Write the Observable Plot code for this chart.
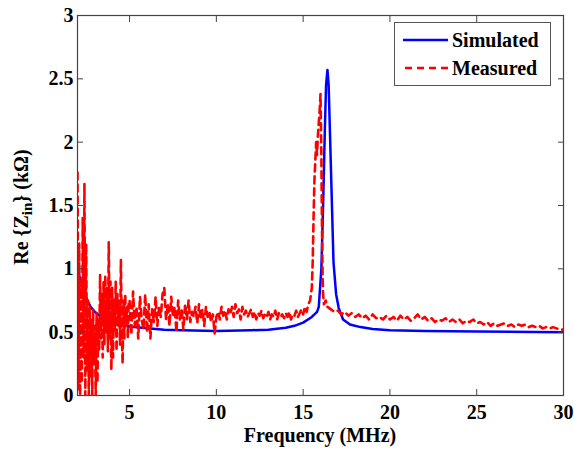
<!DOCTYPE html>
<html>
<head>
<meta charset="utf-8">
<script src="https://cdn.jsdelivr.net/npm/d3@7"></script>
<script src="https://cdn.jsdelivr.net/npm/@observablehq/plot@0.6"></script>
<style>
  html, body { margin: 0; padding: 0; background: #fff; }
  #wrap { position: relative; width: 574px; height: 449px; font-family: "Times New Roman", Times, "Liberation Serif", "Nimbus Roman", "Nimbus Roman No9 L", FreeSerif, "Noto Serif", "DejaVu Serif", serif; font-weight: bold; color: #000; }
  #wrap svg { display: block; }
  .ylab { position: absolute; left: 21px; top: 207px; transform: translate(-50%, -50%) rotate(-90deg); white-space: nowrap; font-size: 20px; }
  .ylab sub { font-size: 15px; vertical-align: -4px; line-height: 0; }
  .xlab { position: absolute; left: 320px; top: 435px; transform: translate(-50%, -50%); white-space: nowrap; font-size: 20px; }
  .legend { position: absolute; left: 394px; top: 22px; width: 155px; height: 59px; border: 1px solid #555; background: #fff; padding-top: 3px; box-sizing: content-box; }
  .legend .row { display: flex; align-items: center; height: 28px; padding-left: 8px; font-size: 20px; }
  .legend svg { margin-right: 4px; }
</style>
</head>
<body>
<div id="wrap"></div>
<script>
// ---- Data ----
const xTicks = [5, 10, 15, 20, 25, 30];
const yTicks = [0, 0.5, 1, 1.5, 2, 2.5, 3];
const seriesNames = ["Simulated", "Measured"];

// Simulated Re{Zin} (kOhm)
const simFreq = [2.0, 2.1, 2.25, 2.5, 2.75, 3.0, 3.5, 4.0, 4.5, 5.0, 6.0, 7.0, 8.0, 10.0, 12.0, 13.0, 14.0, 14.5, 15.0, 15.5, 15.8, 15.9, 16.05, 16.15, 16.25, 16.32, 16.4, 16.47, 16.55, 16.65, 16.75, 16.9, 17.05, 17.3, 17.7, 18.3, 19.0, 20.0, 22.0, 25.0, 30.0];
const simRe   = [1.09, 0.95, 0.85, 0.77, 0.70, 0.66, 0.61, 0.58, 0.56, 0.545, 0.53, 0.52, 0.515, 0.51, 0.515, 0.52, 0.535, 0.55, 0.575, 0.62, 0.66, 0.70, 1.0, 1.5, 2.1, 2.45, 2.57, 2.45, 2.05, 1.55, 1.05, 0.8, 0.69, 0.6, 0.56, 0.54, 0.525, 0.515, 0.51, 0.505, 0.50];

// Measured Re{Zin}, low band 2.00 .. 4.95 MHz every 0.05 MHz
const measLowStart = 2.0, measLowStep = 0.05;
const measLow = [1.76, 0.05, 1.2, 0.0, 0.9, 0.1, 1.4, 0.3, 1.67, 0.0,
                 1.2, 0.2, 0.75, 0.0, 0.7, 0.15, 0.6, 0.0, 0.68, 0.25,
                 0.55, 0.0, 0.65, 0.1, 0.6, 0.35, 0.95, 0.45, 0.8, 0.3,
                 0.9, 0.4, 0.95, 0.5, 0.85, 0.35, 1.21, 0.45, 0.9, 0.2,
                 0.85, 0.3, 0.75, 0.5, 0.9, 0.35, 0.8, 0.55, 0.75, 0.4,
                 1.07, 0.5, 0.25, 0.75, 0.45, 0.8, 0.55, 0.7, 0.45, 0.75];
// Measured, mid band 5.0 .. 15.3 MHz every 0.1 MHz
const measMidStart = 5.0, measMidStep = 0.1;
const measMid = [0.75, 0.48, 0.82, 0.55, 0.7, 0.45, 0.78, 0.6, 0.52, 0.8,
                 0.5, 0.72, 0.45, 0.68, 0.58, 0.78, 0.55, 0.7, 0.62, 0.8,
                 0.85, 0.6, 0.72, 0.55, 0.78, 0.62, 0.7, 0.5, 0.75, 0.6,
                 0.68, 0.52, 0.72, 0.6, 0.75, 0.58, 0.66, 0.62, 0.7, 0.57,
                 0.72, 0.6, 0.68, 0.55, 0.7, 0.62, 0.66, 0.58, 0.64, 0.49,
                 0.62, 0.66, 0.6, 0.7, 0.63, 0.67, 0.6, 0.68, 0.64, 0.7,
                 0.62, 0.72, 0.65, 0.68, 0.6, 0.7, 0.64, 0.67, 0.62, 0.65,
                 0.68, 0.62, 0.66, 0.6, 0.65, 0.63, 0.67, 0.61, 0.64, 0.62,
                 0.66, 0.6, 0.64, 0.62, 0.67, 0.6, 0.65, 0.62, 0.64, 0.61,
                 0.65, 0.62, 0.66, 0.6, 0.64, 0.63, 0.67, 0.62, 0.65, 0.68,
                 0.64, 0.7, 0.66, 0.72];
// Measured, resonance region
const measPeakFreq = [15.4, 15.5, 15.55, 15.6, 15.65, 15.7, 15.75, 15.8, 15.85, 15.9, 15.95, 16.0, 16.05, 16.08, 16.12, 16.15, 16.2, 16.3];
const measPeakRe   = [0.75, 0.85, 1.05, 1.4, 1.7, 1.85, 2.0, 1.9, 2.05, 2.15, 2.25, 2.38, 1.9, 1.4, 0.95, 0.8, 0.72, 0.75];
// Measured, high band 16.4 .. 30.0 MHz every 0.2 MHz
const measHighStart = 16.4, measHighStep = 0.2;
const measHigh = [0.7, 0.68, 0.66, 0.67, 0.64, 0.66, 0.63, 0.65, 0.62, 0.64,
                  0.61, 0.63, 0.6, 0.64, 0.61, 0.62, 0.6, 0.63, 0.6, 0.62,
                  0.59, 0.63, 0.6, 0.62, 0.59, 0.61, 0.64, 0.6, 0.62, 0.59,
                  0.61, 0.58, 0.6, 0.59, 0.61, 0.58, 0.6, 0.58, 0.6, 0.57,
                  0.59, 0.58, 0.6, 0.57, 0.58, 0.56, 0.58, 0.55, 0.57, 0.55,
                  0.56, 0.57, 0.55, 0.56, 0.54, 0.56, 0.55, 0.56, 0.54, 0.55,
                  0.54, 0.55, 0.53, 0.54, 0.53, 0.54, 0.53, 0.52, 0.52];

// ---- Build tables ----
const simulated = simFreq.map((f, i) => ({f, v: simRe[i]}));
const measured = [
  ...measLow.map((v, i) => ({f: +(measLowStart + i * measLowStep).toFixed(3), v})),
  ...measMid.map((v, i) => ({f: +(measMidStart + i * measMidStep).toFixed(3), v})),
  ...measPeakFreq.map((f, i) => ({f, v: measPeakRe[i]})),
  ...measHigh.map((v, i) => ({f: +(measHighStart + i * measHighStep).toFixed(3), v}))
];

const BLUE = "#0000ff", RED = "#ff0000", AXIS = "#444";
const FONT = "'Times New Roman', Times, 'Liberation Serif', 'Nimbus Roman', FreeSerif, 'Noto Serif', 'DejaVu Serif', serif";

const chart = Plot.plot({
  width: 574,
  height: 449,
  marginLeft: 77,
  marginRight: 11,
  marginTop: 15,
  marginBottom: 54,
  style: {fontFamily: FONT, fontSize: "20px", fontWeight: "bold", background: "#fff", color: "#000"},
  x: {domain: [2, 30]},
  y: {domain: [0, 3]},
  marks: [
    Plot.line(simulated, {x: "f", y: "v", stroke: BLUE, strokeWidth: 2.5, clip: true}),
    Plot.line(measured, {x: "f", y: "v", stroke: RED, strokeWidth: 2.6, strokeDasharray: "7,5", clip: true}),
    Plot.frame({stroke: AXIS, strokeWidth: 1.2}),
    Plot.axisX({anchor: "bottom", ticks: xTicks, tickSize: -6, tickPadding: 15, stroke: AXIS, fontFamily: FONT, label: null, tickFormat: d => String(d)}),
    Plot.axisX({anchor: "top", ticks: xTicks, tickSize: -6, stroke: AXIS, label: null, tickFormat: () => ""}),
    Plot.axisY({anchor: "left", ticks: yTicks, tickSize: -6, tickPadding: 10, stroke: AXIS, fontFamily: FONT, label: null, tickFormat: d => String(d)}),
    Plot.axisY({anchor: "right", ticks: yTicks, tickSize: -6, stroke: AXIS, label: null, tickFormat: () => ""})
  ]
});

const wrap = document.getElementById("wrap");
wrap.appendChild(chart);

// Axis titles
const yl = document.createElement("div");
yl.className = "ylab";
yl.innerHTML = "Re {Z<sub>in</sub>} (k&Omega;)";
wrap.appendChild(yl);
const xl = document.createElement("div");
xl.className = "xlab";
xl.textContent = "Frequency (MHz)";
wrap.appendChild(xl);

// Legend
const lg = document.createElement("div");
lg.className = "legend";
const styles = [{c: BLUE, dash: null}, {c: RED, dash: "7,5"}];
seriesNames.forEach((name, i) => {
  const row = document.createElement("div");
  row.className = "row";
  row.innerHTML = `<svg width="45" height="6"><line x1="0" y1="3" x2="45" y2="3" stroke="${styles[i].c}" stroke-width="2.4" ${styles[i].dash ? `stroke-dasharray="${styles[i].dash}" stroke-dashoffset="-2"` : ""}></line></svg><span>${name}</span>`;
  lg.appendChild(row);
});
wrap.appendChild(lg);
</script>
</body>
</html>
